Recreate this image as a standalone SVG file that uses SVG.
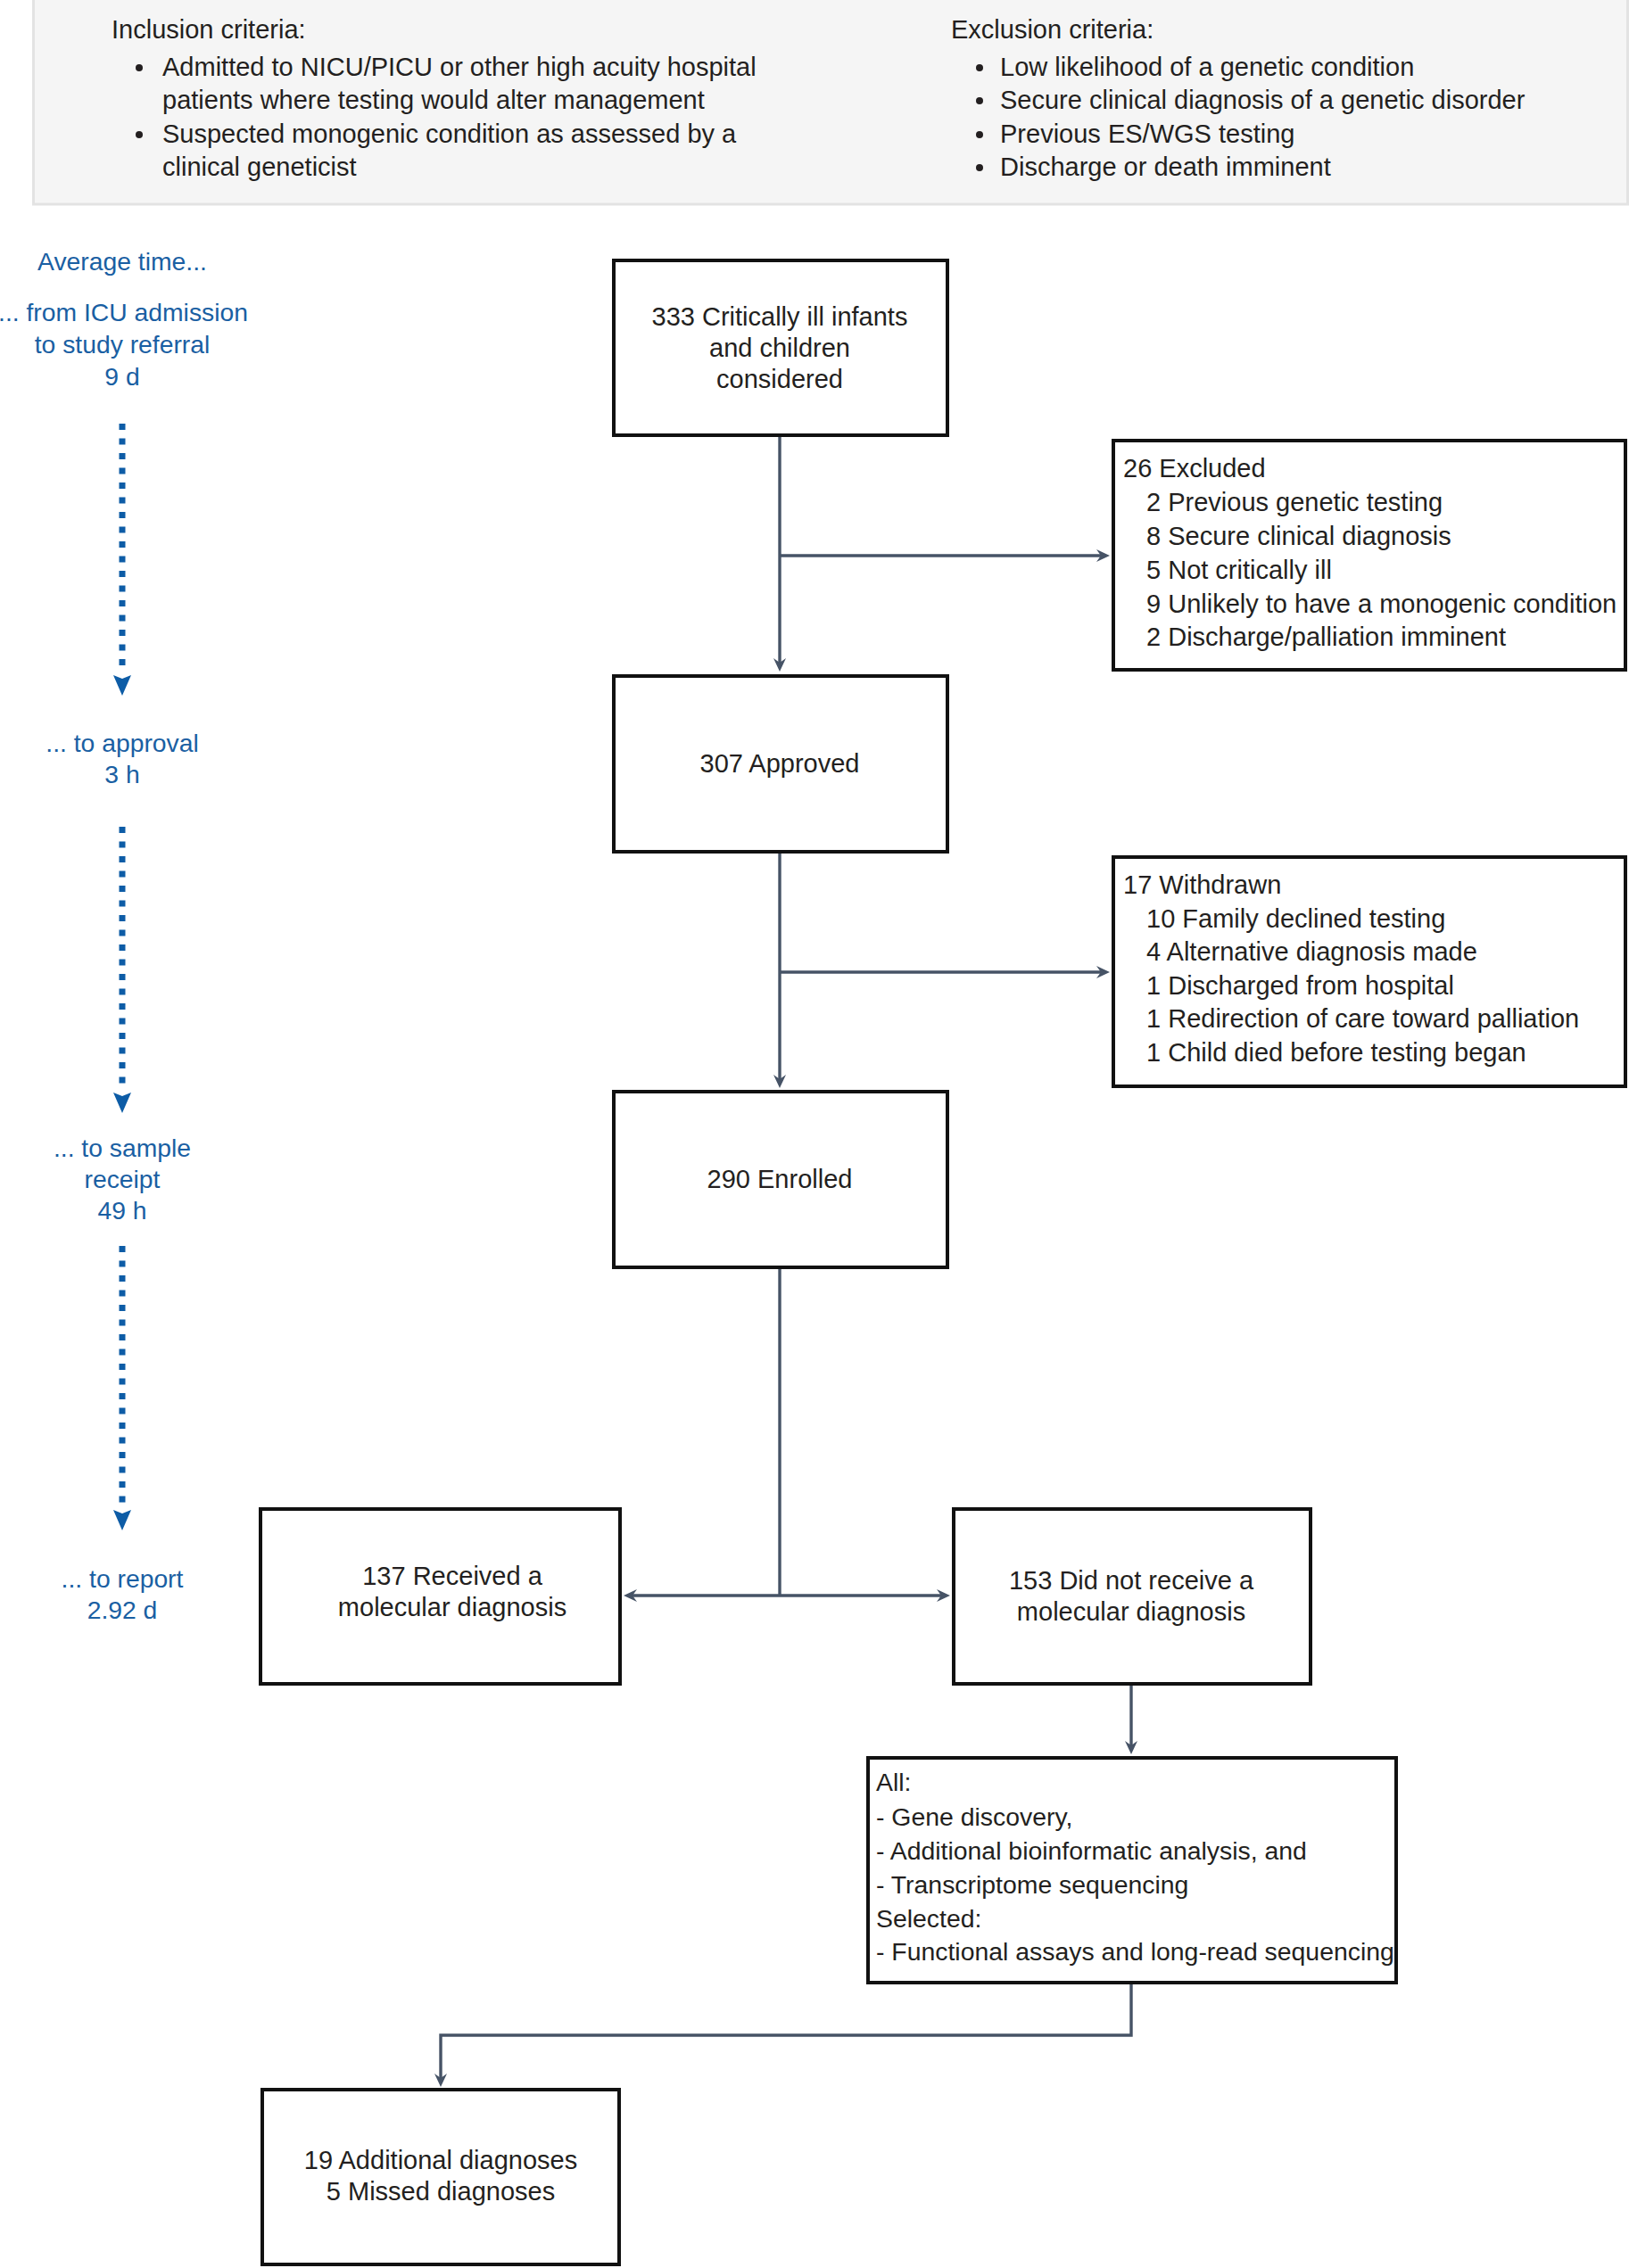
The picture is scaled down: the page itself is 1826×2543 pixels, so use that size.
<svg xmlns="http://www.w3.org/2000/svg" width="1826" height="2543" viewBox="0 0 1826 2543">
<style>
  text { font-family: "Liberation Sans", Arial, sans-serif; font-size: 29px; fill: #231f20; }
  .blue { fill: #1a5fa3; font-size: 28.3px; text-anchor: middle; }
  .mid { text-anchor: middle; }
  .box { fill: #ffffff; stroke: #111111; stroke-width: 4; }
  .conn { fill: none; stroke: #465366; stroke-width: 3.4; }
  .dots { fill: none; stroke: #0d5ca6; stroke-width: 7; stroke-dasharray: 7 9.5; }
  .small { font-size: 28.4px; }
</style>
<defs>
  <marker id="ah" markerUnits="userSpaceOnUse" viewBox="-10 -8 17 16" markerWidth="17" markerHeight="16" refX="0" refY="0" orient="auto">
    <path d="M6,0 L-9,-7 L-4,0 L-9,7 Z" fill="#465366"/>
  </marker>
  <marker id="bh" markerUnits="userSpaceOnUse" viewBox="0 -11 30 22" markerWidth="30" markerHeight="22" refX="0" refY="0" orient="auto">
    <path d="M5,-10 L28,0 L5,10 L9,0 Z" fill="#0d5ca6"/>
  </marker>
</defs>

<g id="criteria">
  <rect x="37.5" y="-2" width="1787" height="231" fill="#f5f5f5" stroke="#e3e3e3" stroke-width="3"/>
  <text x="125" y="43">Inclusion criteria:</text>
  <circle cx="156" cy="76" r="4" fill="#231f20"/>
  <text x="182" y="85">Admitted to NICU/PICU or other high acuity hospital</text>
  <text x="182" y="122">patients where testing would alter management</text>
  <circle cx="156" cy="151" r="4" fill="#231f20"/>
  <text x="182" y="160">Suspected monogenic condition as assessed by a</text>
  <text x="182" y="197">clinical geneticist</text>
  <text x="1066" y="43">Exclusion criteria:</text>
  <circle cx="1098" cy="76" r="4" fill="#231f20"/>
  <text x="1121" y="85">Low likelihood of a genetic condition</text>
  <circle cx="1098" cy="113" r="4" fill="#231f20"/>
  <text x="1121" y="122">Secure clinical diagnosis of a genetic disorder</text>
  <circle cx="1098" cy="151" r="4" fill="#231f20"/>
  <text x="1121" y="160">Previous ES/WGS testing</text>
  <circle cx="1098" cy="188" r="4" fill="#231f20"/>
  <text x="1121" y="197">Discharge or death imminent</text>
</g>

<g id="timeline">
  <text class="blue" x="137" y="303">Average time...</text>
  <text class="blue" x="138" y="360">... from ICU admission</text>
  <text class="blue" x="137" y="396">to study referral</text>
  <text class="blue" x="137" y="432">9 d</text>
  <line class="dots" x1="137" y1="475" x2="137" y2="752" marker-end="url(#bh)"/>
  <text class="blue" x="137" y="843">... to approval</text>
  <text class="blue" x="137" y="878">3 h</text>
  <line class="dots" x1="137" y1="927" x2="137" y2="1220" marker-end="url(#bh)"/>
  <text class="blue" x="137" y="1297">... to sample</text>
  <text class="blue" x="137" y="1332">receipt</text>
  <text class="blue" x="137" y="1367">49 h</text>
  <line class="dots" x1="137" y1="1397" x2="137" y2="1688" marker-end="url(#bh)"/>
  <text class="blue" x="137" y="1780">... to report</text>
  <text class="blue" x="137" y="1815">2.92 d</text>
</g>

<g id="connectors">
  <path class="conn" d="M874,489 V747" marker-end="url(#ah)"/>
  <path class="conn" d="M874,623 H1238" marker-end="url(#ah)"/>
  <path class="conn" d="M874,957 V1214" marker-end="url(#ah)"/>
  <path class="conn" d="M874,1090 H1238" marker-end="url(#ah)"/>
  <path class="conn" d="M874,1423 V1789"/>
  <path class="conn" d="M874,1789 H705" marker-end="url(#ah)"/>
  <path class="conn" d="M874,1789 H1059" marker-end="url(#ah)"/>
  <path class="conn" d="M1268,1890 V1961" marker-end="url(#ah)"/>
  <path class="conn" d="M1268,2225 V2282 H494 V2334" marker-end="url(#ah)"/>
</g>

<g id="n333">
  <rect class="box" x="688" y="292" width="374" height="196"/>
  <text class="mid" x="874" y="365">333 Critically ill infants</text>
  <text class="mid" x="874" y="400">and children</text>
  <text class="mid" x="874" y="435">considered</text>
</g>

<g id="excluded">
  <rect class="box" x="1248" y="494" width="574" height="257"/>
  <text x="1259" y="535">26 Excluded</text>
  <text x="1285" y="573">2 Previous genetic testing</text>
  <text x="1285" y="611">8 Secure clinical diagnosis</text>
  <text x="1285" y="649">5 Not critically ill</text>
  <text x="1285" y="687">9 Unlikely to have a monogenic condition</text>
  <text x="1285" y="724">2 Discharge/palliation imminent</text>
</g>

<g id="n307">
  <rect class="box" x="688" y="758" width="374" height="197"/>
  <text class="mid" x="874" y="866">307 Approved</text>
</g>

<g id="withdrawn">
  <rect class="box" x="1248" y="961" width="574" height="257"/>
  <text x="1259" y="1002">17 Withdrawn</text>
  <text x="1285" y="1040">10 Family declined testing</text>
  <text x="1285" y="1077">4 Alternative diagnosis made</text>
  <text x="1285" y="1115">1 Discharged from hospital</text>
  <text x="1285" y="1152">1 Redirection of care toward palliation</text>
  <text x="1285" y="1190">1 Child died before testing began</text>
</g>

<g id="n290">
  <rect class="box" x="688" y="1224" width="374" height="197"/>
  <text class="mid" x="874" y="1332">290 Enrolled</text>
</g>

<g id="n137">
  <rect class="box" x="292" y="1692" width="403" height="196"/>
  <text class="mid" x="507" y="1777">137 Received a</text>
  <text class="mid" x="507" y="1812">molecular diagnosis</text>
</g>

<g id="n153">
  <rect class="box" x="1069" y="1692" width="400" height="196"/>
  <text class="mid" x="1268" y="1782">153 Did not receive a</text>
  <text class="mid" x="1268" y="1817">molecular diagnosis</text>
</g>

<g id="followup">
  <rect class="box" x="973" y="1971" width="592" height="252"/>
  <text class="small" x="982" y="2008">All:</text>
  <text class="small" x="982" y="2047">- Gene discovery,</text>
  <text class="small" x="982" y="2085">- Additional bioinformatic analysis, and</text>
  <text class="small" x="982" y="2123">- Transcriptome sequencing</text>
  <text class="small" x="982" y="2161">Selected:</text>
  <text class="small" x="982" y="2198">- Functional assays and long-read sequencing</text>
</g>

<g id="additional">
  <rect class="box" x="294" y="2343" width="400" height="196"/>
  <text class="mid" x="494" y="2432">19 Additional diagnoses</text>
  <text class="mid" x="494" y="2467">5 Missed diagnoses</text>
</g>
</svg>
